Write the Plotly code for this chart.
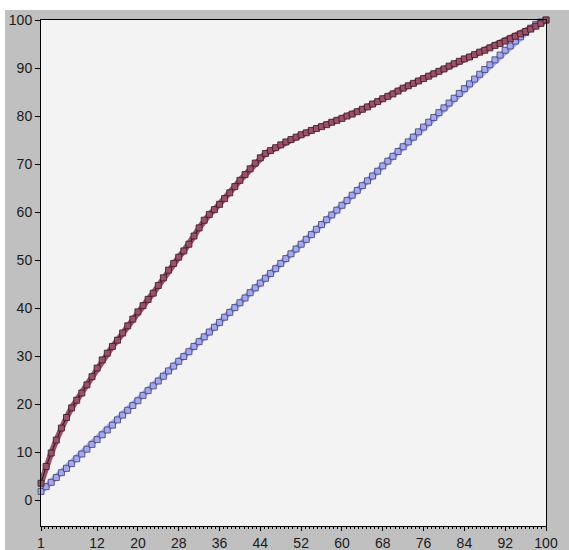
import plotly.graph_objects as go

x_vals = list(range(1, 101))

red_vals = [
    3.5, 7.0, 9.8, 12.5, 15.0, 17.2, 19.2, 20.8, 22.3, 24.0,
    25.7, 27.5, 29.2, 30.6, 32.0, 33.3, 34.8, 36.3, 37.7, 39.2,
    40.5, 41.8, 43.1, 44.7, 46.3, 47.9, 49.3, 50.6, 51.9, 53.3,
    55.0, 56.7, 58.3, 59.5, 60.5, 61.6, 62.8, 64.0, 65.3, 66.6,
    67.8, 69.0, 70.2, 71.3, 72.2, 72.8, 73.4, 74.0, 74.6, 75.1,
    75.6, 76.1, 76.5, 77.0, 77.4, 77.8, 78.2, 78.7, 79.1, 79.5,
    80.0, 80.4, 80.9, 81.4, 81.9, 82.5, 83.0, 83.6, 84.1, 84.6,
    85.2, 85.8, 86.3, 86.8, 87.3, 87.8, 88.3, 88.8, 89.3, 89.8,
    90.4, 90.9, 91.4, 91.9, 92.3, 92.8, 93.3, 93.7, 94.2, 94.7,
    95.1, 95.6, 96.1, 96.6, 97.1, 97.6, 98.1, 98.7, 99.3, 100.0,
]

blue_vals = [
    1.8, 2.8, 3.7, 4.7, 5.7, 6.6, 7.6, 8.6, 9.6, 10.6,
    11.6, 12.6, 13.6, 14.6, 15.6, 16.7, 17.7, 18.7, 19.7, 20.7,
    21.8, 22.8, 23.8, 24.8, 25.8, 26.9, 27.9, 28.9, 29.9, 30.9,
    32.0, 33.0, 34.0, 35.0, 36.0, 37.0, 38.1, 39.1, 40.1, 41.1,
    42.1, 43.2, 44.2, 45.2, 46.2, 47.2, 48.2, 49.3, 50.3, 51.3,
    52.3, 53.3, 54.3, 55.3, 56.4, 57.4, 58.4, 59.4, 60.4, 61.4,
    62.4, 63.5, 64.5, 65.5, 66.5, 67.5, 68.5, 69.6, 70.6, 71.6,
    72.6, 73.6, 74.6, 75.6, 76.7, 77.7, 78.7, 79.7, 80.7, 81.7,
    82.7, 83.7, 84.7, 85.7, 86.7, 87.7, 88.7, 89.7, 90.7, 91.7,
    92.7, 93.7, 94.6, 95.6, 96.5, 97.4, 98.3, 99.1, 99.6, 100.0,
]

x_tick_vals = [1, 12, 20, 28, 36, 44, 52, 60, 68, 76, 84, 92, 100]
y_tick_vals = [0, 10, 20, 30, 40, 50, 60, 70, 80, 90, 100]

series = [
    (blue_vals, "#a4a8ec", "#3c3c78", "#303060"),
    (red_vals, "#9c5069", "#3a1a22", "#1a1a1a"),
]

fig = go.Figure()
for vals, fill, edge, core in series:
    # thick band under the markers so the chain looks continuous
    fig.add_trace(go.Scatter(
        x=x_vals, y=vals, mode="lines",
        line=dict(color=fill, width=6),
        cliponaxis=False, showlegend=False, hoverinfo="skip",
    ))
    fig.add_trace(go.Scatter(
        x=x_vals, y=vals, mode="lines+markers",
        line=dict(color=core, width=1),
        marker=dict(symbol="square", size=6, color=fill,
                    line=dict(color=edge, width=0.8)),
        cliponaxis=False, showlegend=False,
    ))

# white border strips at top and left of the gray panel
fig.add_shape(type="rect", xref="paper", yref="paper",
              x0=-0.2, x1=1.2, y0=1.0198, y1=1.2,
              fillcolor="white", line=dict(width=0), layer="below")
fig.add_shape(type="rect", xref="paper", yref="paper",
              x0=-0.2, x1=-0.0713, y0=-0.2, y1=1.2,
              fillcolor="white", line=dict(width=0), layer="below")

font = dict(family="Liberation Sans, Arial, sans-serif", size=14, color="#1a1a1a")

fig.update_layout(
    width=569, height=550,
    margin=dict(l=41, r=23, t=20, b=24, autoexpand=False),
    paper_bgcolor="#c0c0c0",
    plot_bgcolor="#f3f3f3",
    font=font,
    showlegend=False,
    xaxis=dict(
        range=[1, 100], tickmode="array", tickvals=x_tick_vals,
        ticktext=[str(v) for v in x_tick_vals],
        ticks="outside", ticklen=4, tickcolor="#000", tickwidth=1,
        showline=True, linecolor="#000", linewidth=1, mirror=True,
        showgrid=False, zeroline=False, tickfont=font, automargin=False,
        minor=dict(tickmode="linear", tick0=100, dtick=0.8, ticks="outside",
                   ticklen=2, tickcolor="#000", tickwidth=1, showgrid=False),
    ),
    yaxis=dict(
        range=[-5.4, 100], tickmode="array", tickvals=y_tick_vals,
        ticks="outside", ticklen=5, tickcolor="#000", tickwidth=1,
        showline=True, linecolor="#000", linewidth=1, mirror=True,
        showgrid=False, zeroline=False, tickfont=font, automargin=False,
    ),
)

fig.write_html("out.html",
               config={"displayModeBar": False},
               post_script="document.body.style.margin='0';document.body.style.overflow='hidden';")
